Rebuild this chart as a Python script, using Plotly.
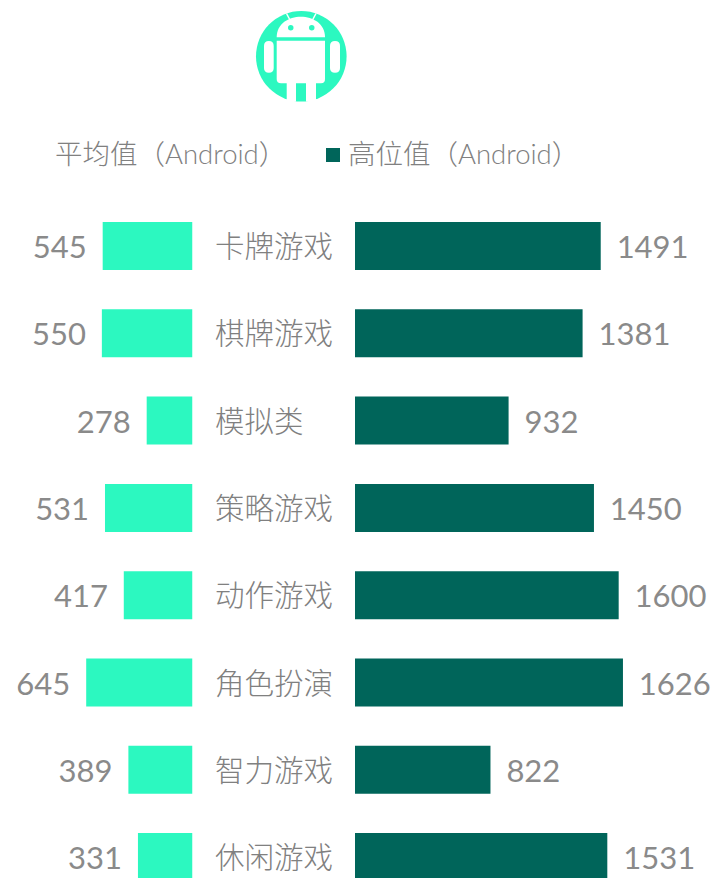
import plotly.graph_objects as go

categories = ["卡牌游戏", "棋牌游戏", "模拟类", "策略游戏", "动作游戏", "角色扮演", "智力游戏", "休闲游戏"]
avg_values = [545, 550, 278, 531, 417, 645, 389, 331]
high_values = [1491, 1381, 932, 1450, 1600, 1626, 822, 1531]
avg_name = "平均值（Android）"
high_name = "高位值（Android）"

W, H = 717, 878
MINT = "#2CF8C0"
DARK = "#00655A"
GRAY = "#8A8A8A"
LATIN = "Lato, 'Noto Sans CJK SC', sans-serif"
CJK = "'Noto Sans CJK SC', sans-serif"
PX_PER_UNIT = 0.1648


def px(x):
    return x / W


def py(y):
    return 1 - y / H


fig = go.Figure()
fig.add_trace(go.Bar(
    y=categories, x=avg_values, orientation="h", width=0.55,
    marker=dict(color=MINT, line_width=0), xaxis="x", yaxis="y",
    text=avg_values, texttemplate="%{text}\u2005\u2006", textposition="outside",
    cliponaxis=False, constraintext="none",
    textfont=dict(family=LATIN, size=31, color=GRAY, weight=400),
))
fig.add_trace(go.Bar(
    y=categories, x=high_values, orientation="h", width=0.55,
    marker=dict(color=DARK, line_width=0), xaxis="x2", yaxis="y",
    text=high_values, texttemplate="\u2005\u2006%{text}", textposition="outside",
    cliponaxis=False, constraintext="none",
    textfont=dict(family=LATIN, size=31, color=GRAY, weight=400),
))

hidden = dict(showgrid=False, zeroline=False, showticklabels=False, showline=False, ticks="")
row = 87.3
y_center0 = 246

shapes = [
    dict(type="circle", x0=px(256), x1=px(346.6), y0=py(11), y1=py(101.6), fillcolor=MINT),
    dict(type="path", path=(f"M {px(276.7)} {py(37.3)} C {px(276.7)} {py(10)} {px(325)} {py(10)} {px(325)} {py(37.3)} Z"),
         fillcolor="white"),
    dict(type="circle", x0=px(288), x1=px(293.5), y0=py(25), y1=py(30.5), fillcolor=MINT),
    dict(type="circle", x0=px(309), x1=px(314.5), y0=py(25), y1=py(30.5), fillcolor=MINT),
    dict(type="line", x0=px(286.5), x1=px(290), y0=py(13.5), y1=py(20), line=dict(color="white", width=1.5)),
    dict(type="line", x0=px(316), x1=px(312.5), y0=py(13.5), y1=py(20), line=dict(color="white", width=1.5)),
    dict(type="path", path=(f"M {px(276.7)} {py(40.7)} L {px(325)} {py(40.7)} L {px(325)} {py(79)} "
                            f"Q {px(325)} {py(83.3)} {px(321)} {py(83.3)} L {px(281)} {py(83.3)} "
                            f"Q {px(276.7)} {py(83.3)} {px(276.7)} {py(79)} Z"), fillcolor="white"),
    dict(type="rect", x0=px(286.7), x1=px(296), y0=py(83), y1=py(101.6), fillcolor="white"),
    dict(type="rect", x0=px(306), x1=px(316), y0=py(83), y1=py(101.6), fillcolor="white"),
    dict(type="path", path=(f"M {px(264)} {py(46)} Q {px(264)} {py(41)} {px(268.9)} {py(41)} Q {px(273.7)} {py(41)} {px(273.7)} {py(46)} "
                            f"L {px(273.7)} {py(68)} Q {px(273.7)} {py(72.7)} {px(268.9)} {py(72.7)} Q {px(264)} {py(72.7)} {px(264)} {py(68)} Z"),
         fillcolor="white"),
    dict(type="path", path=(f"M {px(330)} {py(46)} Q {px(330)} {py(41)} {px(335)} {py(41)} Q {px(340)} {py(41)} {px(340)} {py(46)} "
                            f"L {px(340)} {py(68)} Q {px(340)} {py(72.7)} {px(335)} {py(72.7)} Q {px(330)} {py(72.7)} {px(330)} {py(68)} Z"),
         fillcolor="white"),
    dict(type="rect", x0=px(326), x1=px(340), y0=py(148), y1=py(162), fillcolor=DARK),
]
for s in shapes:
    s.update(xref="paper", yref="paper")
    if s["type"] != "line":
        s["line"] = dict(width=0)

annotations = [
    dict(text=avg_name, x=px(53), y=py(153), xref="paper", yref="paper", xanchor="left", yanchor="middle",
         showarrow=False, font=dict(family=LATIN, size=27.5, color="#808080", weight=300)),
    dict(text=high_name, x=px(346), y=py(153), xref="paper", yref="paper", xanchor="left", yanchor="middle",
         showarrow=False, font=dict(family=LATIN, size=27.5, color="#808080", weight=300)),
]
for c in categories:
    annotations.append(dict(
        text=c, x=0, y=c, xref="x3", yref="y", xanchor="left", yanchor="middle", yshift=2,
        showarrow=False, xshift=-3, font=dict(family=CJK, size=29.5, color="#808080", weight=300),
    ))

fig.update_layout(
    width=W, height=H, autosize=False,
    margin=dict(l=0, r=0, t=0, b=0),
    paper_bgcolor="white", plot_bgcolor="white",
    showlegend=False,
    shapes=shapes, annotations=annotations,
    xaxis=dict(domain=[0, px(192.5)], range=[192.5 / PX_PER_UNIT, 0], anchor="y", **hidden),
    xaxis2=dict(domain=[px(355), 1], range=[0, (W - 355) / PX_PER_UNIT], anchor="y", **hidden),
    xaxis3=dict(domain=[px(216), px(340)], range=[0, 1], anchor="y", **hidden),
    yaxis=dict(type="category", categoryorder="array", categoryarray=categories, domain=[0, 1],
               range=[(H - y_center0) / row, -y_center0 / row], **hidden),
)
fig.write_html("out.html", config=dict(displayModeBar=False),
               post_script="document.body.style.margin='0';document.body.style.overflow='hidden';")
